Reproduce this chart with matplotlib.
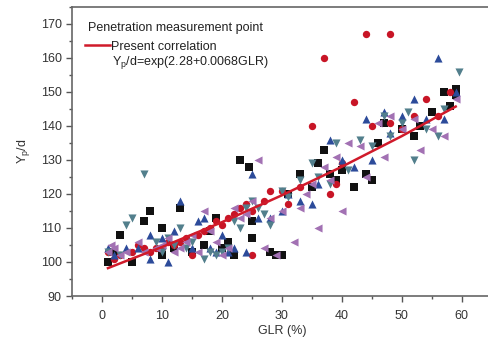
import matplotlib
matplotlib.use('Agg')
import matplotlib.pyplot as plt
from matplotlib.ticker import MultipleLocator

plt.rcParams['font.family'] = ['Liberation Sans', 'DejaVu Sans']
plt.rcParams['mathtext.fontset'] = 'custom'
plt.rcParams['mathtext.rm'] = 'Liberation Sans'
plt.rcParams['mathtext.it'] = 'Liberation Sans:italic'

# measured points, one list pair per marker series
sq_x = [1, 2, 3, 5, 7, 8, 10, 10, 12, 13, 15, 17, 18, 19, 20, 21, 22, 23, 24.5, 25, 25, 28, 29, 30,
        31, 33, 35, 36, 37, 38, 39, 40, 42, 44, 45, 46, 47, 50, 52, 53, 55, 57, 58, 59, 59]
sq_y = [100, 103, 108, 100, 112, 115, 102, 110, 104, 116, 103, 105, 109, 113, 104, 106, 102, 130, 128, 107, 112, 103, 102, 102,
        120, 126, 122, 129, 133, 126, 124, 127, 122, 126, 124, 135, 141, 139, 137, 140, 144, 150, 146, 151, 149]

ci_x = [1, 2, 3, 5, 6, 7, 8, 9, 10, 11, 12, 13, 14, 15, 16, 17, 18, 19, 20, 21, 22, 23, 24, 25, 25,
        27, 28, 30, 31, 33, 35, 37, 38, 39, 42, 44, 48, 48, 50, 52, 54, 56, 58, 40, 45]
ci_y = [103, 101, 102, 103, 105, 104, 103, 104, 104, 106, 105, 106, 107, 102, 108, 109, 110, 112, 111, 113, 114, 116, 117, 102, 115,
        118, 121, 121, 117, 122, 140, 160, 120, 123, 147, 167, 167, 141, 139, 143, 148, 143, 150, 129, 140]

up_x = [1, 2, 4, 6, 8, 8, 10, 11, 12, 13, 15, 16, 17, 18, 19, 20, 21, 22, 24, 25, 26, 28, 30, 33,
        35, 36, 38, 40, 42, 44, 45, 47, 48, 50, 52, 54, 56, 57, 59, 31]
up_y = [104, 102, 104, 104, 101, 108, 107, 100, 109, 118, 104, 112, 113, 104, 103, 108, 103, 104, 103, 126, 113, 113, 115, 118,
        117, 123, 136, 130, 128, 142, 130, 144, 138, 143, 148, 142, 160, 142, 150, 120]

dn_x = [1, 3, 4, 5, 7, 9, 10, 11, 12, 13, 14, 15, 17, 18, 19, 20, 21, 22, 23, 24, 25, 26, 27, 28,
        30, 31, 33, 35, 36, 38, 39, 41, 43, 45, 47, 48, 50, 51, 52, 54, 56, 57, 59.5]
dn_y = [103, 102, 111, 113, 126, 106, 103, 107, 105, 110, 104, 106, 101, 103, 102, 103, 104, 112, 110, 116, 118, 116, 114, 111,
        121, 119, 124, 129, 125, 123, 135, 127, 136, 134, 143, 137, 141, 144, 130, 139, 137, 145, 156]

lt_x = [1, 1.5, 2, 3, 4, 6, 7, 9, 10, 11, 12, 13, 14, 15, 16, 17, 18, 19, 20, 21, 22, 23, 24, 25, 26,
        27, 28, 29, 30, 32, 33, 34, 35, 36, 37, 38, 39, 40, 41, 43, 44, 46, 47, 48, 50, 52, 53, 55, 57, 59]
lt_y = [103, 105, 104, 102, 103, 106, 103, 104, 105, 107, 103, 104, 106, 108, 103, 115, 109, 106, 102, 104, 116, 113, 114, 118, 130,
        104, 113, 102, 115, 106, 116, 120, 123, 110, 128, 124, 131, 115, 135, 134, 125, 141, 131, 143, 139, 142, 133, 139, 137, 148]

# correlation curve
fit_x = [1, 10, 20, 30, 40, 50, 59]
fit_y = [98.2, 104.4, 111.7, 119.6, 128.0, 137.0, 145.7]

fig = plt.figure(figsize=(4.88, 3.45), dpi=100)
ax = fig.add_axes([0.1475, 0.142, 0.86, 0.838])

ms = 28
ax.scatter(sq_x, sq_y, marker='s', s=ms, color='#111111', linewidths=0, zorder=3)
ax.scatter(ci_x, ci_y, marker='o', s=ms, color='#c81526', linewidths=0, zorder=3)
ax.scatter(up_x, up_y, marker='^', s=ms + 6, color='#2c4b9a', linewidths=0, zorder=3)
ax.scatter(dn_x, dn_y, marker='v', s=ms + 6, color='#527f8c', linewidths=0, zorder=3)
ax.scatter(lt_x, lt_y, marker='<', s=ms + 6, color='#a271b3', linewidths=0, zorder=3)

line, = ax.plot(fit_x, fit_y, color='#d01a2a', lw=1.8, zorder=4)

ax.set_xlim(-5, 65)
ax.set_ylim(90, 175)
ax.xaxis.set_major_locator(MultipleLocator(10))
ax.xaxis.set_minor_locator(MultipleLocator(5))
ax.yaxis.set_major_locator(MultipleLocator(10))
ax.yaxis.set_minor_locator(MultipleLocator(5))
ax.tick_params(which='both', direction='out', colors='#555555', labelcolor='#333333', labelsize=9)
ax.tick_params(which='major', length=4, width=1)
ax.tick_params(which='minor', length=2.5, width=1)
ax.tick_params(axis='x', pad=6)
for s in ax.spines.values():
    s.set_color('#666666')
    s.set_linewidth(1.2)

ax.set_xlabel('GLR (%)', fontsize=9, color='#333333', labelpad=2)
ax.set_ylabel('Y$_{\\mathrm{p}}$/d', fontsize=9, color='#333333', labelpad=6)

ax.text(0.038, 0.927, 'Penetration measurement point', transform=ax.transAxes,
        fontsize=9, color='#222222', va='center')
ax.legend([line], ['Present correlation'],
          loc='center left', bbox_to_anchor=(0.024, 0.862), frameon=False,
          fontsize=9, handlelength=2.0, handletextpad=0.1, borderaxespad=0,
          borderpad=0.2, labelcolor='#222222')
ax.text(0.095, 0.808, 'Y$_{\\mathrm{p}}$/d=exp(2.28+0.0068GLR)', transform=ax.transAxes,
        fontsize=9, color='#222222', va='center')

fig.savefig('out.png', dpi=100)
